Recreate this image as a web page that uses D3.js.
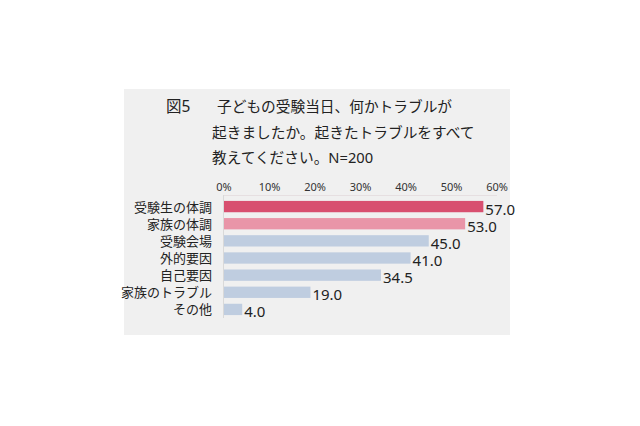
<!DOCTYPE html>
<html>
<head>
<meta charset="utf-8">
<script src="https://cdn.jsdelivr.net/npm/d3@7"></script>
<style>
  html, body { margin: 0; padding: 0; background: #fff; }
  svg { display: block; font-family: "Noto Sans", "Noto Sans CJK JP", sans-serif; }
</style>
</head>
<body>
<div id="chart"></div>
<script>
const categories = ['受験生の体調', '家族の体調', '受験会場', '外的要因', '自己要因', '家族のトラブル', 'その他'];
const values = [57.0, 53.0, 45.0, 41.0, 34.5, 19.0, 4.0];
const tickValues = [0, 10, 20, 30, 40, 50, 60];
const titleNo = '図5';
const titleLines = ['子どもの受験当日、何かトラブルが', '起きましたか。起きたトラブルをすべて', '教えてください。N=200'];
const barColors = ['#d84f6f', '#e995a8', '#bfcde0', '#bfcde0', '#bfcde0', '#bfcde0', '#bfcde0'];

const width = 640, height = 426;
const svg = d3.select('#chart').append('svg')
  .attr('width', width)
  .attr('height', height);

// gray panel
svg.append('rect')
  .attr('x', 124).attr('y', 89)
  .attr('width', 386).attr('height', 246)
  .attr('fill', '#f0f0f0');

// title
svg.append('text')
  .attr('x', 166).attr('y', 112)
  .attr('font-size', 15.5)
  .attr('fill', '#222')
  .text(titleNo);

svg.selectAll('text.title')
  .data(titleLines)
  .join('text')
  .attr('class', 'title')
  .attr('x', (d, i) => i === 0 ? 217 : 212)
  .attr('y', (d, i) => 112 + i * 25.5)
  .attr('font-size', 14.7)
  .attr('fill', '#222')
  .text((d) => d);

const x = d3.scaleLinear().domain([0, 60]).range([224, 497]);
const y = d3.scaleBand().domain(categories).range([198, 318]).paddingInner(0.34).paddingOuter(0.17);

// tick labels on top
svg.selectAll('text.tick')
  .data(tickValues)
  .join('text')
  .attr('class', 'tick')
  .attr('x', (d) => x(d))
  .attr('y', 188)
  .attr('text-anchor', 'middle')
  .attr('dominant-baseline', 'middle')
  .attr('font-size', 11)
  .attr('fill', '#333')
  .text((d) => d + '%');

// axis lines
svg.append('line')
  .attr('x1', x(0)).attr('x2', x(60))
  .attr('y1', 195.5).attr('y2', 195.5)
  .attr('stroke', '#e6dfe1').attr('stroke-width', 1);
svg.append('line')
  .attr('x1', x(0) - 0.5).attr('x2', x(0) - 0.5)
  .attr('y1', 195).attr('y2', 318)
  .attr('stroke', '#d9d9d9').attr('stroke-width', 1);

// bars
svg.selectAll('rect.bar')
  .data(values)
  .join('rect')
  .attr('class', 'bar')
  .attr('x', x(0))
  .attr('y', (d, i) => y(categories[i]))
  .attr('width', (d) => x(d) - x(0))
  .attr('height', y.bandwidth())
  .attr('fill', (d, i) => barColors[i]);

// category labels
svg.selectAll('text.cat')
  .data(categories)
  .join('text')
  .attr('class', 'cat')
  .attr('x', 212)
  .attr('y', (d) => y(d) + y.bandwidth() / 2)
  .attr('text-anchor', 'end')
  .attr('dominant-baseline', 'central')
  .attr('font-size', 13)
  .attr('fill', '#222')
  .text((d) => d);

// value labels
svg.selectAll('text.val')
  .data(values)
  .join('text')
  .attr('class', 'val')
  .attr('x', (d) => x(d) + 2)
  .attr('y', (d, i) => y(categories[i]) + y.bandwidth() / 2 + 2)
  .attr('dominant-baseline', 'central')
  .attr('font-size', 15)
  .attr('fill', '#222')
  .text((d) => d.toFixed(1));
</script>
</body>
</html>
